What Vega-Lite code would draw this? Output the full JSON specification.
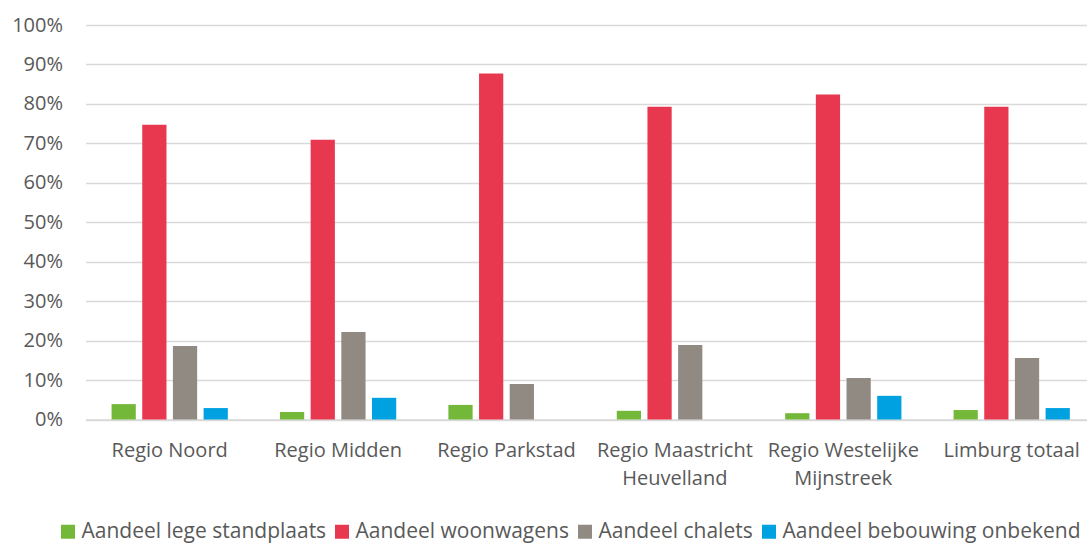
{
  "$schema": "https://vega.github.io/schema/vega-lite/v6.json",
  "width": 1001.5,
  "height": 394.5,
  "autosize": "none",
  "padding": {"left": 85.5, "top": 25, "right": 0, "bottom": 123.5},
  "background": "white",
  "config": {"view": {"stroke": null}, "font": "Open Sans"},
  "data": {
    "values": [
      {"regio": "Regio Noord", "reeks": "Aandeel lege standplaats", "aandeel": 0.039},
      {"regio": "Regio Noord", "reeks": "Aandeel woonwagens", "aandeel": 0.747},
      {"regio": "Regio Noord", "reeks": "Aandeel chalets", "aandeel": 0.186},
      {"regio": "Regio Noord", "reeks": "Aandeel bebouwing onbekend", "aandeel": 0.029},
      {"regio": "Regio Midden", "reeks": "Aandeel lege standplaats", "aandeel": 0.019},
      {"regio": "Regio Midden", "reeks": "Aandeel woonwagens", "aandeel": 0.709},
      {"regio": "Regio Midden", "reeks": "Aandeel chalets", "aandeel": 0.222},
      {"regio": "Regio Midden", "reeks": "Aandeel bebouwing onbekend", "aandeel": 0.055},
      {"regio": "Regio Parkstad", "reeks": "Aandeel lege standplaats", "aandeel": 0.037},
      {"regio": "Regio Parkstad", "reeks": "Aandeel woonwagens", "aandeel": 0.877},
      {"regio": "Regio Parkstad", "reeks": "Aandeel chalets", "aandeel": 0.090},
      {"regio": "Regio Parkstad", "reeks": "Aandeel bebouwing onbekend", "aandeel": 0},
      {"regio": "Regio Maastricht Heuvelland", "reeks": "Aandeel lege standplaats", "aandeel": 0.022},
      {"regio": "Regio Maastricht Heuvelland", "reeks": "Aandeel woonwagens", "aandeel": 0.793},
      {"regio": "Regio Maastricht Heuvelland", "reeks": "Aandeel chalets", "aandeel": 0.189},
      {"regio": "Regio Maastricht Heuvelland", "reeks": "Aandeel bebouwing onbekend", "aandeel": 0},
      {"regio": "Regio Westelijke Mijnstreek", "reeks": "Aandeel lege standplaats", "aandeel": 0.016},
      {"regio": "Regio Westelijke Mijnstreek", "reeks": "Aandeel woonwagens", "aandeel": 0.824},
      {"regio": "Regio Westelijke Mijnstreek", "reeks": "Aandeel chalets", "aandeel": 0.105},
      {"regio": "Regio Westelijke Mijnstreek", "reeks": "Aandeel bebouwing onbekend", "aandeel": 0.060},
      {"regio": "Limburg totaal", "reeks": "Aandeel lege standplaats", "aandeel": 0.024},
      {"regio": "Limburg totaal", "reeks": "Aandeel woonwagens", "aandeel": 0.793},
      {"regio": "Limburg totaal", "reeks": "Aandeel chalets", "aandeel": 0.156},
      {"regio": "Limburg totaal", "reeks": "Aandeel bebouwing onbekend", "aandeel": 0.029}
    ]
  },
  "mark": {"type": "bar"},
  "encoding": {
    "x": {
      "field": "regio",
      "type": "nominal",
      "sort": ["Regio Noord", "Regio Midden", "Regio Parkstad", "Regio Maastricht Heuvelland", "Regio Westelijke Mijnstreek", "Limburg totaal"],
      "scale": {"range": [0, 1010.4], "paddingInner": 0, "paddingOuter": 0},
      "axis": {
        "title": null,
        "labelAngle": 0,
        "ticks": false,
        "domain": true,
        "domainColor": "#D9D9D9",
        "domainWidth": 1.3,
        "labelFontSize": 20,
        "labelColor": "#595959",
        "labelPadding": 21,
        "labelLineHeight": 28,
        "labelLimit": 300,
        "labelExpr": "datum.label == 'Regio Maastricht Heuvelland' ? ['Regio Maastricht', 'Heuvelland'] : datum.label == 'Regio Westelijke Mijnstreek' ? ['Regio Westelijke', 'Mijnstreek'] : datum.label"
      }
    },
    "xOffset": {
      "field": "reeks",
      "type": "nominal",
      "sort": ["Aandeel lege standplaats", "Aandeel woonwagens", "Aandeel chalets", "Aandeel bebouwing onbekend"],
      "scale": {"paddingInner": 0.21, "paddingOuter": 0.85}
    },
    "y": {
      "field": "aandeel",
      "type": "quantitative",
      "scale": {"domain": [0, 1], "nice": false},
      "axis": {
        "title": null,
        "values": [0, 0.1, 0.2, 0.3, 0.4, 0.5, 0.6, 0.7, 0.8, 0.9, 1],
        "format": ".0%",
        "grid": true,
        "gridColor": "#D9D9D9",
        "gridWidth": 1.3,
        "domain": false,
        "ticks": false,
        "labelFontSize": 20,
        "labelColor": "#595959",
        "labelPadding": 23
      }
    },
    "color": {
      "field": "reeks",
      "type": "nominal",
      "sort": ["Aandeel lege standplaats", "Aandeel woonwagens", "Aandeel chalets", "Aandeel bebouwing onbekend"],
      "scale": {
        "domain": ["Aandeel lege standplaats", "Aandeel woonwagens", "Aandeel chalets", "Aandeel bebouwing onbekend"],
        "range": ["#74B83A", "#E8384F", "#918A83", "#00A1E0"]
      },
      "legend": {
        "title": null,
        "orient": "none",
        "direction": "horizontal",
        "legendX": -28,
        "legendY": 496,
        "symbolType": "square",
        "symbolSize": 196,
        "symbolStrokeWidth": 0,
        "labelFontSize": 21,
        "labelColor": "#595959",
        "labelOffset": 3,
        "labelLimit": 400,
        "columnPadding": 5
      }
    }
  }
}
